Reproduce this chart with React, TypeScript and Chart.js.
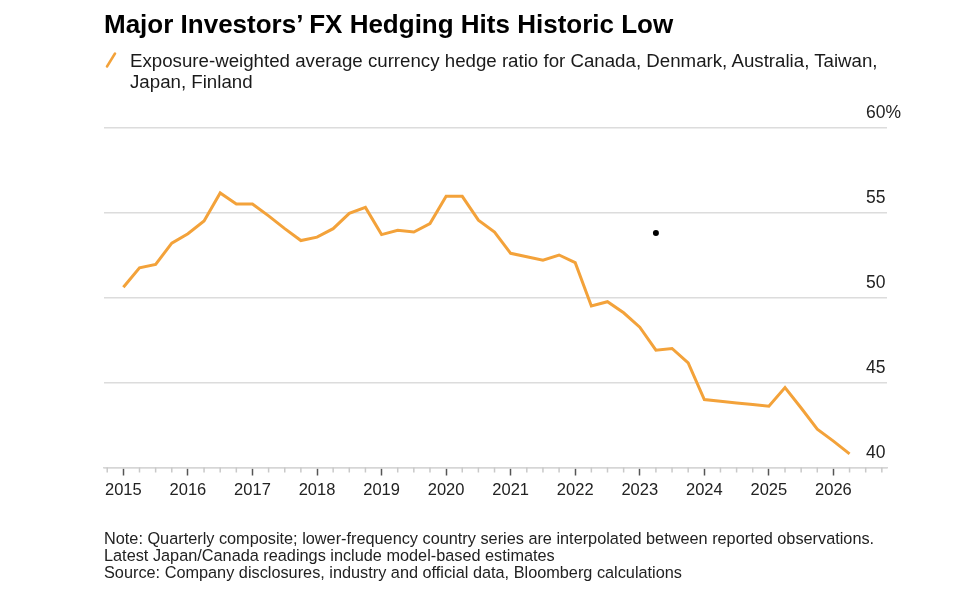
import React, { useEffect, useRef } from "react";
import { Chart, registerables } from "chart.js";

Chart.register(...registerables);

const TITLE = "Major Investors’ FX Hedging Hits Historic Low";
const SERIES_LINES = [
  "Exposure-weighted average currency hedge ratio for Canada, Denmark, Australia, Taiwan,",
  "Japan, Finland",
];
const NOTES = [
  "Note: Quarterly composite; lower-frequency country series are interpolated between reported observations.",
  "Latest Japan/Canada readings include model-based estimates",
  "Source: Company disclosures, industry and official data, Bloomberg calculations",
];

const quarters = [
  "2015 Q1", "2015 Q2", "2015 Q3", "2015 Q4",
  "2016 Q1", "2016 Q2", "2016 Q3", "2016 Q4",
  "2017 Q1", "2017 Q2", "2017 Q3", "2017 Q4",
  "2018 Q1", "2018 Q2", "2018 Q3", "2018 Q4",
  "2019 Q1", "2019 Q2", "2019 Q3", "2019 Q4",
  "2020 Q1", "2020 Q2", "2020 Q3", "2020 Q4",
  "2021 Q1", "2021 Q2", "2021 Q3", "2021 Q4",
  "2022 Q1", "2022 Q2", "2022 Q3", "2022 Q4",
  "2023 Q1", "2023 Q2", "2023 Q3", "2023 Q4",
  "2024 Q1", "2024 Q2", "2024 Q3", "2024 Q4",
  "2025 Q1", "2025 Q2", "2025 Q3", "2025 Q4",
  "2026 Q1", "2026 Q2",
];

const hedgeRatio = [
  50.6, 51.75, 51.95, 53.2,
  53.75, 54.5, 56.15, 55.5,
  55.5, 54.8, 54.05, 53.35,
  53.55, 54.05, 54.95, 55.3,
  53.7, 53.95, 53.85, 54.35,
  55.95, 55.95, 54.55, 53.85,
  52.6, 52.4, 52.2, 52.5,
  52.05, 49.5, 49.75, 49.1,
  48.25, 46.9, 47.0, 46.15,
  44.0, 43.9, 43.8, 43.7,
  43.6, 44.7, 43.5, 42.25,
  41.55, 40.8,
];

const markerQuarters = ["2023 Q2"];
const markerValues = [53.8];

const yearTicks = [2015, 2016, 2017, 2018, 2019, 2020, 2021, 2022, 2023, 2024, 2025, 2026];
const valueTicks = [40, 45, 50, 55, 60];

const X_MIN = 2014.7;
const X_MAX = 2026.83;
const FONT = '"Liberation Sans", Arial, Helvetica, sans-serif';
const LINE_COLOR = "#f3a23a";

const quarterToX = (q: string) => {
  const [y, n] = q.split(" Q");
  return Number(y) + (Number(n) - 1) / 4;
};

const minorTickValues = [2014, ...yearTicks]
  .flatMap((y) => [0.25, 0.5, 0.75].map((f) => y + f))
  .filter((v) => v > X_MIN && v < X_MAX);

const minorTicksPlugin = {
  id: "minorTicks",
  afterDraw(chart: any) {
    const xs = chart.scales.x;
    const ctx = chart.ctx;
    const y0 = chart.chartArea.bottom;
    ctx.save();
    ctx.strokeStyle = "#c9c9c9";
    ctx.lineWidth = 1.5;
    for (const v of minorTickValues) {
      const px = xs.getPixelForValue(v);
      ctx.beginPath();
      ctx.moveTo(px, y0);
      ctx.lineTo(px, y0 + 5);
      ctx.stroke();
    }
    ctx.restore();
  },
};

function HedgeChart() {
  const ref = useRef<HTMLCanvasElement | null>(null);
  useEffect(() => {
    if (!ref.current) return;
    const chart = new Chart(ref.current, {
      type: "line",
      data: {
        datasets: [
          {
            label: "Hedge ratio",
            data: quarters.map((q, i) => ({ x: quarterToX(q), y: hedgeRatio[i] })),
            borderColor: LINE_COLOR,
            backgroundColor: LINE_COLOR,
            borderWidth: 3,
            pointRadius: 0,
            tension: 0,
            order: 2,
          },
          {
            label: "Marker",
            data: markerQuarters.map((q, i) => ({ x: quarterToX(q), y: markerValues[i] })),
            showLine: false,
            pointRadius: 3,
            pointBackgroundColor: "#000",
            pointBorderWidth: 0,
            order: 1,
          },
        ],
      },
      options: {
        animation: false,
        responsive: false,
        devicePixelRatio: 1,
        layout: { padding: { left: 104, right: 90, top: 127.5, bottom: 96.5 } },
        plugins: {
          legend: { display: false },
          tooltip: { enabled: false },
          title: { display: false },
        },
        scales: {
          x: {
            type: "linear",
            min: X_MIN,
            max: X_MAX,
            afterBuildTicks: (s: any) => {
              s.ticks = yearTicks.map((v) => ({ value: v }));
            },
            afterFit: (s: any) => {
              s.height = 40;
            },
            ticks: {
              autoSkip: false,
              maxRotation: 0,
              padding: 5,
              color: "#222",
              font: { family: FONT, size: 16.5 },
              callback: (v: any) => String(v),
            },
            grid: {
              drawOnChartArea: false,
              drawTicks: true,
              tickLength: 8,
              tickColor: "#555",
              tickWidth: 1.5,
            },
            border: { display: true, color: "#d6d6d6", width: 1.5 },
          },
          y: {
            type: "linear",
            position: "right",
            min: 40,
            max: 60,
            afterBuildTicks: (s: any) => {
              s.ticks = valueTicks.map((v) => ({ value: v }));
            },
            afterFit: (s: any) => {
              s.width = 0;
            },
            ticks: {
              mirror: true,
              padding: 14,
              labelOffset: -14,
              crossAlign: "far",
              color: "#222",
              font: { family: FONT, size: 17.5 },
              callback: (v: any) => (v === 60 ? "60%" : String(v)),
            },
            grid: {
              color: "#dcdcdc",
              lineWidth: 1.5,
              drawTicks: false,
            },
            border: { display: false },
          },
        },
      },
      plugins: [minorTicksPlugin],
    } as any);
    return () => chart.destroy();
  }, []);
  return (
    <canvas
      ref={ref}
      width={977}
      height={604}
      style={{ position: "absolute", left: 0, top: 0, width: 977, height: 604 }}
    />
  );
}

export default function App() {
  return (
    <div
      style={{
        position: "fixed",
        left: 0,
        top: 0,
        width: 977,
        height: 604,
        background: "#fff",
        fontFamily: FONT,
        overflow: "hidden",
      }}
    >
      <HedgeChart />
      <div
        style={{
          position: "absolute",
          left: 104,
          top: 9,
          fontSize: 26,
          lineHeight: "30px",
          fontWeight: 700,
          color: "#000",
          whiteSpace: "nowrap",
        }}
      >
        {TITLE}
      </div>
      <svg
        width={14}
        height={16}
        style={{ position: "absolute", left: 104, top: 52 }}
      >
        <line x1={3} y1={14.5} x2={11} y2={1.5} stroke={LINE_COLOR} strokeWidth={2.5} strokeLinecap="round" />
      </svg>
      <div
        style={{
          position: "absolute",
          left: 130,
          top: 49.6,
          fontSize: 18.7,
          lineHeight: "21px",
          color: "#1a1a1a",
          whiteSpace: "nowrap",
        }}
      >
        {SERIES_LINES.map((l, i) => (
          <div key={i}>{l}</div>
        ))}
      </div>
      <div
        style={{
          position: "absolute",
          left: 104,
          top: 529.5,
          fontSize: 16.3,
          lineHeight: "17px",
          color: "#222",
          whiteSpace: "nowrap",
        }}
      >
        {NOTES.map((l, i) => (
          <div key={i}>{l}</div>
        ))}
      </div>
    </div>
  );
}
